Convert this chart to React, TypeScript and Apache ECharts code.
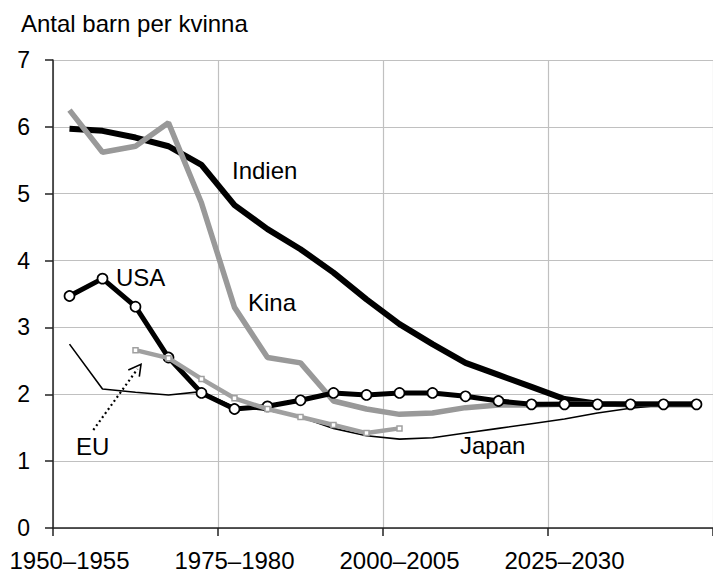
import React, { useEffect, useRef } from "react";
import * as echarts from "echarts";

const categories = [
  "1950–1955", "1955–1960", "1960–1965", "1965–1970", "1970–1975",
  "1975–1980", "1980–1985", "1985–1990", "1990–1995", "1995–2000",
  "2000–2005", "2005–2010", "2010–2015", "2015–2020", "2020–2025",
  "2025–2030", "2030–2035", "2035–2040", "2040–2045", "2045–2050",
];

const indien = [5.97, 5.94, 5.84, 5.71, 5.43, 4.83, 4.47, 4.17, 3.82, 3.42, 3.05, 2.75, 2.47, 2.29, 2.11, 1.93, 1.86, 1.85, 1.85, 1.85];
const kina = [6.25, 5.62, 5.71, 6.06, 4.86, 3.3, 2.55, 2.47, 1.9, 1.78, 1.7, 1.72, 1.8, 1.84, 1.84, 1.85, 1.85, 1.85, 1.85, 1.85];
const usa = [3.47, 3.73, 3.31, 2.55, 2.02, 1.78, 1.82, 1.91, 2.02, 1.99, 2.02, 2.02, 1.97, 1.9, 1.85, 1.85, 1.85, 1.85, 1.85, 1.85];
const eu = [null, null, 2.66, 2.54, 2.23, 1.94, 1.78, 1.66, 1.54, 1.42, 1.49, null, null, null, null, null, null, null, null, null];
const japan = [2.75, 2.08, 2.03, 1.99, 2.04, 1.81, 1.76, 1.66, 1.49, 1.38, 1.33, 1.35, 1.42, 1.49, 1.56, 1.63, 1.72, 1.79, 1.84, 1.85];

const yTicks = { min: 0, max: 7, interval: 1 };
const titleText = "Antal barn per kvinna";

const FONT = "'Liberation Sans', Arial, sans-serif";

export default function App() {
  const ref = useRef<HTMLDivElement>(null);
  useEffect(() => {
    if (!ref.current) return;
    const chart = echarts.init(ref.current, undefined, { renderer: "svg" });
    const label = (text: string, x: number, y: number) => ({
      type: "text",
      x,
      y,
      style: {
        text,
        fill: "#000",
        font: `24px ${FONT}`,
        textAlign: "left",
        align: "left",
        textVerticalAlign: "middle",
        verticalAlign: "middle",
      },
      z: 100,
    });
    chart.setOption({
      animation: false,
      backgroundColor: "#fff",
      textStyle: { fontFamily: FONT },
      grid: { left: 53, top: 60, width: 664, height: 468, containLabel: false },
      xAxis: {
        type: "category",
        data: categories,
        boundaryGap: true,
        axisLine: { show: true, lineStyle: { color: "#222", width: 1.5 } },
        axisTick: { show: true, interval: 4, length: 8, lineStyle: { color: "#222", width: 1.5 } },
        axisLabel: { interval: 4, fontSize: 24, color: "#000", margin: 20, fontFamily: FONT },
        splitLine: { show: true, interval: 4, lineStyle: { color: "#c0c0c0", width: 1.2 } },
      },
      yAxis: {
        type: "value",
        min: yTicks.min,
        max: yTicks.max,
        interval: yTicks.interval,
        axisLine: { show: true, lineStyle: { color: "#222", width: 1.5 } },
        axisTick: { show: true, length: 8, lineStyle: { color: "#222", width: 1.5 } },
        axisLabel: { fontSize: 23, color: "#000", margin: 23, fontFamily: FONT },
        splitLine: { show: true, lineStyle: { color: "#c0c0c0", width: 1.2 } },
      },
      series: [
        {
          name: "Indien",
          type: "line",
          data: indien,
          showSymbol: false,
          symbol: "none",
          lineStyle: { color: "#000", width: 6 },
          z: 2,
        },
        {
          name: "Japan",
          type: "line",
          data: japan,
          showSymbol: false,
          symbol: "none",
          lineStyle: { color: "#000", width: 1.6 },
          z: 3,
        },
        {
          name: "Kina",
          type: "line",
          data: kina,
          showSymbol: false,
          symbol: "none",
          lineStyle: { color: "#999999", width: 5.5 },
          z: 4,
        },
        {
          name: "USA",
          type: "line",
          data: usa,
          symbol: "circle",
          symbolSize: 10,
          itemStyle: { color: "#fff", borderColor: "#000", borderWidth: 1.7 },
          lineStyle: { color: "#000", width: 5 },
          z: 5,
        },
        {
          name: "EU",
          type: "line",
          data: eu,
          symbol: "rect",
          symbolSize: 5,
          connectNulls: false,
          itemStyle: { color: "#fff", borderColor: "#a0a0a0", borderWidth: 1.5 },
          lineStyle: { color: "#a0a0a0", width: 4.5 },
          z: 6,
        },
      ],
      graphic: [
        label(titleText, 21, 23.5),
        label("Indien", 232, 170.6),
        label("Kina", 248, 302.3),
        label("USA", 116, 277.6),
        label("EU", 76, 446.6),
        label("Japan", 460, 445.8),
        {
          type: "line",
          shape: { x1: 93.3, y1: 430, x2: 137.5, y2: 369 },
          style: { stroke: "#000", lineWidth: 2.2, lineDash: [2, 3] },
          z: 100,
        },
        {
          type: "polyline",
          shape: { points: [[128.3, 370], [141, 364.3], [139.3, 376.7]] },
          style: { stroke: "#000", lineWidth: 1.6, fill: null },
          z: 100,
        },
      ],
    });
    return () => chart.dispose();
  }, []);
  return (
    <div
      ref={ref}
      style={{ position: "absolute", left: 0, top: 0, width: 713, height: 575 }}
    />
  );
}
